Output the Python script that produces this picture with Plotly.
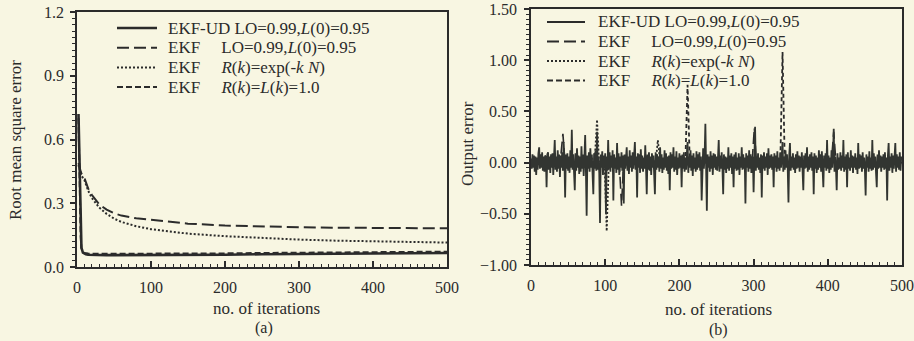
import plotly.graph_objects as go

# ---------------- data: (a) RMSE vs iterations ----------------
rmse_iter = [2, 3, 4, 5, 6, 8, 10, 12, 15, 20, 25, 30, 40, 50, 60, 80, 100, 125, 150,
             200, 250, 300, 350, 400, 450, 500]
rmse_ekf_ud = [0.72, 0.55, 0.30, 0.15, 0.09, 0.068, 0.062, 0.060, 0.058, 0.057, 0.057, 0.057,
               0.056, 0.056, 0.056, 0.056, 0.056, 0.056, 0.056, 0.058, 0.060, 0.062, 0.063,
               0.064, 0.065, 0.066]
rmse_ekf_lo = [0.49, 0.47, 0.46, 0.45, 0.44, 0.43, 0.42, 0.40, 0.37, 0.34, 0.315, 0.295,
               0.27, 0.253, 0.242, 0.229, 0.222, 0.212, 0.204, 0.195, 0.19, 0.187, 0.185,
               0.184, 0.183, 0.182]
rmse_ekf_exp = [0.48, 0.46, 0.45, 0.44, 0.43, 0.42, 0.41, 0.39, 0.36, 0.325, 0.30, 0.28,
                0.25, 0.228, 0.212, 0.192, 0.178, 0.166, 0.157, 0.145, 0.136, 0.129,
                0.124, 0.12, 0.117, 0.115]
rmse_ekf_one = [0.70, 0.50, 0.28, 0.14, 0.09, 0.072, 0.066, 0.064, 0.063, 0.062, 0.062,
                0.062, 0.062, 0.062, 0.062, 0.062, 0.062, 0.062, 0.062, 0.064, 0.066,
                0.068, 0.069, 0.070, 0.071, 0.072]

# ---------------- data: (b) output error (one value per iteration) ----------------
out_iter = list(range(0, 500))
out_ekf_ud = [
    0.04, -0.06, 0.08, -0.05, 0.07, -0.09, 0.06, -0.12, 0.05, -0.07, 0.09, 0.15, -0.06,
    0.08, -0.05, 0.10, -0.08, 0.06, -0.09, 0.07, 0.05, -0.24, 0.08, 0.10, -0.07,
    0.06, -0.10, 0.08, -0.05, 0.09, -0.12, 0.05, 0.22, -0.07, 0.06, -0.09, 0.12, -0.06,
    0.08, -0.14, 0.07, -0.05, 0.10, -0.08, 0.20, 0.05, -0.34, 0.08, -0.06, 0.09,
    -0.08, 0.06, -0.10, 0.12, -0.05, 0.32, -0.07, 0.08, -0.06, -0.27, 0.09, -0.08, 0.14,
    -0.05, 0.07, -0.11, 0.06, -0.09, 0.16, -0.06, 0.08, -0.13, 0.05, 0.27, -0.08,
    -0.52, 0.07, -0.06, 0.10, -0.09, 0.14, -0.05, 0.08, -0.07, -0.31, 0.09, -0.06, 0.12,
    -0.08, 0.30, -0.07, 0.06, -0.10, -0.59, 0.08, -0.05, 0.11, -0.12, 0.07, -0.06,
    0.09, -0.50, 0.06, -0.08, 0.22, -0.06, 0.10, -0.09, 0.07, -0.05, 0.12, -0.37, 0.08,
    -0.06, 0.05, -0.10, 0.19, -0.07, 0.09, -0.12, 0.06, -0.05, 0.10, -0.08, 0.07,
    -0.40, 0.08, -0.06, 0.09, 0.15, -0.08, 0.06, -0.11, 0.12, -0.05, 0.07, -0.09, 0.10,
    -0.06, 0.05, 0.20, -0.07, 0.06, -0.34, 0.09, -0.05, 0.08, -0.10, 0.13, -0.06,
    0.07, -0.09, 0.05, -0.06, 0.17, -0.05, -0.31, 0.08, -0.07, 0.10, -0.08, 0.06, -0.12,
    0.09, -0.05, 0.07, -0.06, -0.31, 0.10, -0.07, 0.08, -0.05, 0.06, -0.09, 0.15,
    -0.06, 0.08, -0.10, 0.05, -0.07, 0.12, -0.05, 0.09, -0.08, 0.06, -0.11, 0.07, -0.27,
    0.10, -0.06, 0.08, -0.05, 0.15, -0.09, 0.06, -0.07, 0.11, -0.12, 0.05, -0.06,
    0.09, -0.05, 0.07, -0.24, 0.08, -0.06, 0.10, -0.09, 0.05, -0.07, 0.08, 0.20, -0.10,
    0.06, -0.05, 0.12, -0.08, 0.07, -0.13, 0.09, -0.06, 0.05, -0.09, 0.11, -0.07,
    0.08, -0.05, 0.10, -0.08, 0.06, -0.37, 0.09, 0.14, -0.06, 0.07, 0.38, -0.10, -0.47,
    0.08, -0.05, 0.06, -0.09, 0.11, -0.06, 0.07, -0.12, 0.09, -0.05, 0.08, -0.07,
    0.06, -0.08, 0.05, 0.22, -0.09, 0.07, -0.06, 0.10, -0.05, -0.31, 0.08, -0.07, 0.06,
    -0.10, 0.05, -0.06, 0.15, -0.08, 0.07, -0.05, 0.09, -0.11, 0.06, -0.24, 0.08,
    -0.06, 0.10, -0.08, 0.05, -0.07, 0.09, -0.12, 0.06, -0.05, 0.15, -0.07, 0.08, -0.06,
    0.05, -0.40, 0.09, -0.05, 0.07, -0.09, 0.12, -0.06, 0.08, -0.10, 0.06, 0.05,
    -0.29, 0.07, 0.35, -0.08, 0.06, -0.05, 0.09, -0.07, 0.05, -0.10, 0.08, -0.34, 0.07,
    -0.06, 0.10, -0.08, 0.06, -0.05, 0.09, -0.12, 0.14, -0.06, 0.07, -0.05, 0.08,
    -0.07, 0.06, -0.24, 0.09, -0.05, 0.07, -0.09, 0.11, -0.06, 0.05, -0.08, 0.10, -0.05,
    0.08, 0.20, -0.09, 0.06, -0.07, 0.12, -0.05, 0.08, -0.06, -0.39, 0.07, 0.19,
    -0.08, 0.06, -0.05, 0.09, -0.07, 0.05, -0.10, 0.08, -0.06, 0.11, -0.05, 0.07, -0.09,
    0.06, -0.05, 0.10, -0.08, -0.27, 0.07, -0.06, 0.09, -0.05, 0.15, -0.09, 0.06,
    -0.07, 0.08, -0.05, 0.10, -0.08, 0.06, -0.31, 0.09, -0.06, 0.07, -0.10, 0.05, -0.07,
    0.12, -0.05, 0.08, -0.09, 0.11, -0.06, -0.24, 0.07, -0.05, 0.09, -0.08, 0.22,
    -0.06, 0.07, -0.10, 0.05, -0.07, 0.12, -0.05, 0.08, 0.33, -0.09, 0.06, -0.05, -0.27,
    0.09, -0.07, 0.05, -0.06, 0.10, -0.08, 0.07, -0.05, 0.22, -0.09, 0.06, -0.07,
    0.08, -0.24, 0.10, -0.06, 0.05, -0.08, 0.12, -0.05, 0.07, -0.10, 0.06, -0.05, 0.09,
    -0.07, 0.05, -0.11, 0.19, -0.06, 0.08, -0.05, 0.07, -0.09, 0.10, -0.06, 0.05,
    -0.07, -0.32, 0.08, -0.05, 0.06, -0.09, 0.11, -0.06, 0.05, -0.08, 0.22, -0.07, 0.09,
    -0.05, 0.06, -0.10, -0.24, 0.08, -0.06, 0.12, -0.05, 0.07, -0.09, 0.06, -0.05,
    0.08, -0.07, 0.10, -0.06, 0.05, -0.37, 0.07, 0.19, -0.08, 0.06, -0.05, 0.09, -0.10,
    0.07, -0.06, 0.05, 0.19, -0.09, 0.08, -0.05, 0.06, -0.07, 0.10, -0.08, 0.06,
]
out_lo_iter = [0, 40, 43, 46, 119, 122, 125, 298, 301, 304, 405, 408, 411, 500]
out_ekf_lo = [0.0, 0.05, 0.28, -0.02, 0.0, -0.42, 0.02, 0.0, 0.34, -0.03, 0.02, 0.30, 0.0, 0.0]
out_exp_iter = [0, 86, 89, 92, 99, 102, 105, 168, 171, 174, 500]
out_ekf_exp = [0.0, 0.04, 0.42, -0.05, 0.02, -0.67, 0.03, 0.0, 0.22, 0.0, 0.0]
out_one_iter = [0, 208, 211, 214, 336, 339, 342, 500]
out_ekf_one = [0.0, 0.0, 0.76, 0.0, 0.0, 1.08, 0.0, 0.0]

legend_names = ["EKF-UD LO=0.99,<i>L</i>(0)=0.95",
                "EKF&nbsp;&nbsp;&nbsp;&nbsp;&nbsp;LO=0.99,<i>L</i>(0)=0.95",
                "EKF&nbsp;&nbsp;&nbsp;&nbsp;&nbsp;<i>R</i>(<i>k</i>)=exp(-<i>k N</i>)",
                "EKF&nbsp;&nbsp;&nbsp;&nbsp;&nbsp;<i>R</i>(<i>k</i>)=<i>L</i>(<i>k</i>)=1.0"]

x_ticks = [0, 100, 200, 300, 400, 500]
y1_ticks = [0.0, 0.3, 0.6, 0.9, 1.2]
y1_labels = ["0.0", "0.3", "0.6", "0.9", "1.2"]
y2_ticks = [-1.0, -0.5, 0.0, 0.5, 1.0, 1.5]
y2_labels = ["\u22121.00", "\u22120.50", "0.00", "0.50", "1.00", "1.50"]

# ---------------- styling ----------------
BG = "#f8f6e2"
INK = "#2b2b2b"
INK2 = "#323531"
FONT = "Liberation Serif"
dashes = ["solid", "12px,5px", "2px,2px", "6px,3px"]
widths = [2.6, 2.0, 2.0, 2.0]

fig = go.Figure()

rmse_series = [rmse_ekf_ud, rmse_ekf_lo, rmse_ekf_exp, rmse_ekf_one]
for ys, d, w in zip(rmse_series, dashes, widths):
    fig.add_trace(go.Scatter(x=rmse_iter, y=ys, mode="lines", xaxis="x", yaxis="y",
                             line=dict(color=INK, dash=d, width=w), showlegend=False))

fig.add_trace(go.Scatter(x=out_lo_iter, y=out_ekf_lo, mode="lines", xaxis="x2", yaxis="y2",
                         line=dict(color=INK, dash=dashes[1], width=1.6), showlegend=False))
fig.add_trace(go.Scatter(x=out_exp_iter, y=out_ekf_exp, mode="lines", xaxis="x2", yaxis="y2",
                         line=dict(color=INK, dash=dashes[2], width=1.8), showlegend=False))
fig.add_trace(go.Scatter(x=out_one_iter, y=out_ekf_one, mode="lines", xaxis="x2", yaxis="y2",
                         line=dict(color=INK, dash="4px,3px", width=1.8), showlegend=False))
fig.add_trace(go.Scatter(x=out_iter, y=out_ekf_ud, mode="lines", xaxis="x2", yaxis="y2",
                         line=dict(color=INK2, width=1.8), showlegend=False))

W, H = 914, 341
def px(x):
    return x / W
def py(y):
    return 1 - y / H

xcommon = dict(range=[0, 500], tickvals=x_ticks, ticks="inside", ticklen=6, tickwidth=1.5,
               tickcolor=INK, showline=True, linecolor=INK, linewidth=1.5, mirror=True,
               showgrid=False, zeroline=False, ticklabelstandoff=5, automargin=False,
               ticklabeloverflow="allow",
               tickfont=dict(family=FONT, size=16, color=INK),
               minor=dict(dtick=10, ticks="inside", ticklen=3, tickcolor=INK, tickwidth=1.2,
                          showgrid=False))
ycommon = dict(ticks="outside", ticklen=5, tickwidth=1.5, tickcolor=INK, showline=True,
               linecolor=INK, linewidth=1.5, mirror=True, showgrid=False, zeroline=False,
               automargin=False, ticklabeloverflow="allow",
               tickfont=dict(family=FONT, size=16, color=INK))

fig.update_layout(
    width=W, height=H, paper_bgcolor=BG, plot_bgcolor=BG,
    margin=dict(l=0, r=0, t=0, b=0),
    xaxis=dict(domain=[px(77), px(447)], anchor="y", **xcommon),
    yaxis=dict(domain=[py(267), py(12)], anchor="x", range=[0, 1.2], tickvals=y1_ticks,
               ticktext=y1_labels, ticklabelstandoff=3,
               minor=dict(dtick=0.03, ticks="outside", ticklen=3, tickcolor=INK,
                          tickwidth=1.2, showgrid=False), **ycommon),
    xaxis2=dict(domain=[px(531), px(902)], anchor="y2", **xcommon),
    yaxis2=dict(domain=[py(265), py(9)], anchor="x2", range=[-1.0, 1.5], tickvals=y2_ticks,
                ticktext=y2_labels, ticklabelstandoff=4,
                minor=dict(dtick=0.05, ticks="outside", ticklen=3, tickcolor=INK,
                           tickwidth=1.2, showgrid=False), **ycommon),
    showlegend=False,
)

annos = []
def label(text, x, y, size=17, angle=0):
    annos.append(dict(text=text, x=px(x), y=py(y), xref="paper", yref="paper",
                      xanchor="center", yanchor="middle", textangle=angle,
                      showarrow=False, font=dict(family=FONT, size=size, color=INK)))

label("no. of iterations", 266, 308)
label("(a)", 264, 328, size=16)
label("no. of iterations", 718, 309)
label("(b)", 718, 330, size=16)
label("Root mean square error", 15, 140, angle=-90)
label("Output error", 467, 143, angle=-90)

shapes = []
# manual legends (key line + text) for both panels
leg_a = dict(x0=117, x1=157, xt=166, rows=[28, 47.7, 67.4, 87.1])
leg_b = dict(x0=547, x1=585, xt=596, rows=[22, 41.5, 61, 80.5])
for leg, lw in ((leg_a, [2.6, 2.0, 2.0, 2.0]), (leg_b, [2.2, 2.0, 1.8, 1.8])):
    for i, ry in enumerate(leg["rows"]):
        shapes.append(dict(type="line", xref="paper", yref="paper",
                           x0=px(leg["x0"]), x1=px(leg["x1"]), y0=py(ry), y1=py(ry),
                           line=dict(color=INK, width=lw[i], dash=dashes[i])))
        annos.append(dict(text=legend_names[i], x=px(leg["xt"]), y=py(ry), xref="paper",
                          yref="paper", xanchor="left", yanchor="middle", showarrow=False,
                          font=dict(family=FONT, size=17, color=INK)))

fig.update_layout(annotations=annos, shapes=shapes)
fig.write_html("out.html", config={"displayModeBar": False},
               post_script="document.body.style.margin='0';document.body.style.overflow='hidden';")
